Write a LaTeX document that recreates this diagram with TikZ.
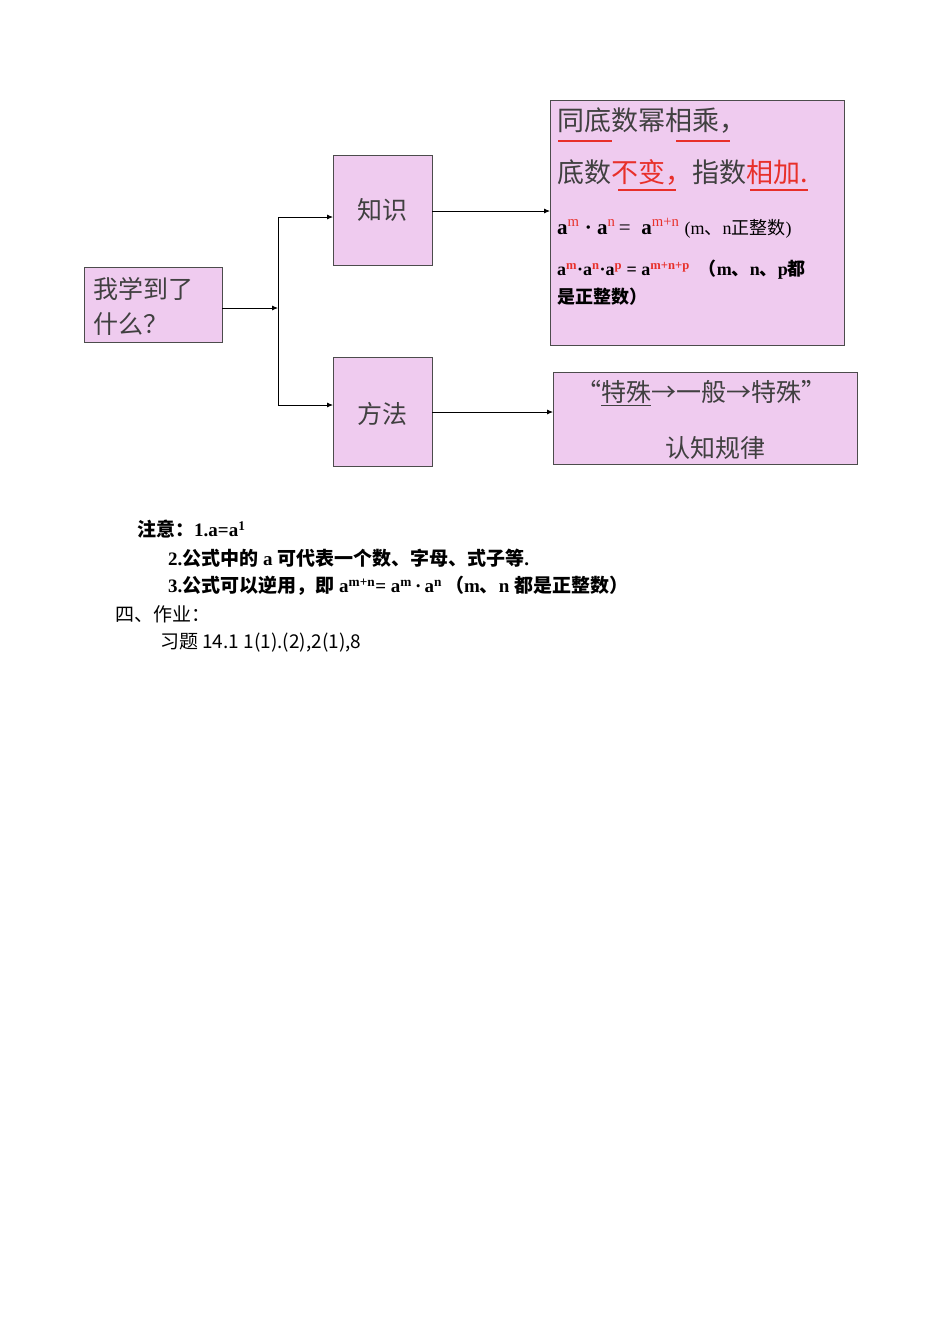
\documentclass[tikz,border=0pt]{standalone}
\usepackage{fontspec}
\setmainfont{Liberation Serif}
\newfontfamily\cjk{Noto Sans CJK SC}
\newcommand{\zh}[1]{{\cjk #1}}
\definecolor{pinkfill}{HTML}{EFCBEF}
\definecolor{redt}{HTML}{E8302A}
\tikzset{
 box/.style={draw=black!70,fill=pinkfill,line width=0.8pt},
 conn/.style={line width=0.8pt,-{Latex[length=6pt,width=5pt]}},
 txt/.style={anchor=west,inner sep=0pt},
 ul/.style={draw=redt,line width=2.5pt}
}
\usetikzlibrary{arrows.meta}
\begin{document}
\begin{tikzpicture}[x=1pt,y=-1pt]
\useasboundingbox (0,0) rectangle (950,1342);
% boxes
\draw[box] (84,267) rectangle (222,342);
\draw[box] (333,155) rectangle (432,265);
\draw[box] (333,357) rectangle (432,466);
\draw[box] (550,100) rectangle (844,345);
\draw[box] (553,372) rectangle (857,464);
\coordinate (lr) at (222,308);
\coordinate (br) at (278,308);
\coordinate (bt) at (278,217);
\coordinate (bb) at (278,405);
\coordinate (k) at (333,217);
\coordinate (m) at (333,405);
\coordinate (ko) at (432,211);
\coordinate (ki) at (550,211);
\coordinate (mo) at (432,412);
\coordinate (mi) at (553,412);
\draw[conn] (lr) -- (br);
\draw[line width=0.8pt] (bt) -- (bb);
\draw[conn] (bt) -- (k);
\draw[conn] (bb) -- (m);
\draw[conn] (ko) -- (ki);
\draw[conn] (mo) -- (mi);
% left texts
\node[txt,font=\cjk\fontsize{25}{30}\selectfont,text=black!75] (t1) at (93,289) {我学到了};
\node[txt,font=\cjk\fontsize{25}{30}\selectfont,text=black!75] (t2) at (93,324) {什么？};
\node[font=\cjk\fontsize{25}{30}\selectfont,text=black!75] (kn) at (382,210) {知识};
\node[font=\cjk\fontsize{25}{30}\selectfont,text=black!75] (me) at (382,414) {方法};
% box1
\node[txt,font=\cjk\fontsize{27}{30}\selectfont,text=black!75] (l1) at (557,121) {同底数幂相乘，};
\draw[ul] (558,141) -- (612,141);
\draw[ul] (676,141) -- (730,141);
\node[txt,font=\cjk\fontsize{27}{30}\selectfont,text=black!75] (l2) at (557,172) {底数\textcolor{redt}{不变，}指数\textcolor{redt}{相加.}};
\draw[ul] (618,190) -- (676,190);
\draw[ul] (750,190) -- (808,190);
\node[txt,font=\fontsize{21}{24}\selectfont] (l3) at (557,228) {\textbf{a}\textsuperscript{\textcolor{redt}{m}} \textbf{·} \textbf{a}\textsuperscript{\textcolor{redt}{n}}\,= \ \textbf{a}\textsuperscript{\textcolor{redt}{m+n}} {\fontsize{18}{20}\selectfont (m\zh{、}n\zh{正整数})}};
\node[txt,font=\bfseries\fontsize{18}{20}\selectfont] (l4) at (557,270) {a\textsuperscript{\textcolor{redt}{m}}·a\textsuperscript{\textcolor{redt}{n}}·a\textsuperscript{\textcolor{redt}{p}} = a\textsuperscript{\textcolor{redt}{m+n+p}} \ \zh{\bfseries （}m\zh{\bfseries 、}n\zh{\bfseries 、}p\zh{\bfseries 都}};
\node[txt,font=\cjk\bfseries\fontsize{18}{20}\selectfont] (l5) at (557,297) {是正整数）};
% box2
\node[font=\cjk\fontsize{25}{30}\selectfont,text=black!75] (q1) at (701,393) {“\underline{特殊}→一般→特殊”};
\node[font=\cjk\fontsize{25}{30}\selectfont,text=black!75] (q2) at (715,448) {认知规律};
% bottom texts
\node[txt,font=\bfseries\fontsize{19}{22}\selectfont] (n1) at (137,529) {\zh{\bfseries 注意：}1.a=a\textsuperscript{1}};
\node[txt,font=\bfseries\fontsize{19}{22}\selectfont] (n2) at (168,558) {2.\zh{\bfseries 公式中的} a \zh{\bfseries 可代表一个数、字母、式子等}.};
\node[txt,font=\bfseries\fontsize{19}{22}\selectfont] (n3) at (168,586) {3.\zh{\bfseries 公式可以逆用，即} a\textsuperscript{m+n}= a\textsuperscript{m}\,·\,a\textsuperscript{n}\,\zh{\bfseries （}m\zh{\bfseries 、}n \zh{\bfseries 都是正整数）}};
\node[txt,font=\cjk\fontsize{19}{22}\selectfont] (h1) at (115,614) {四、作业：};
\node[txt,font=\cjk\fontsize{19}{22}\selectfont] (h2) at (160,643) {习题 14.1 1(1).(2),2(1),8};
\end{tikzpicture}
\end{document}
